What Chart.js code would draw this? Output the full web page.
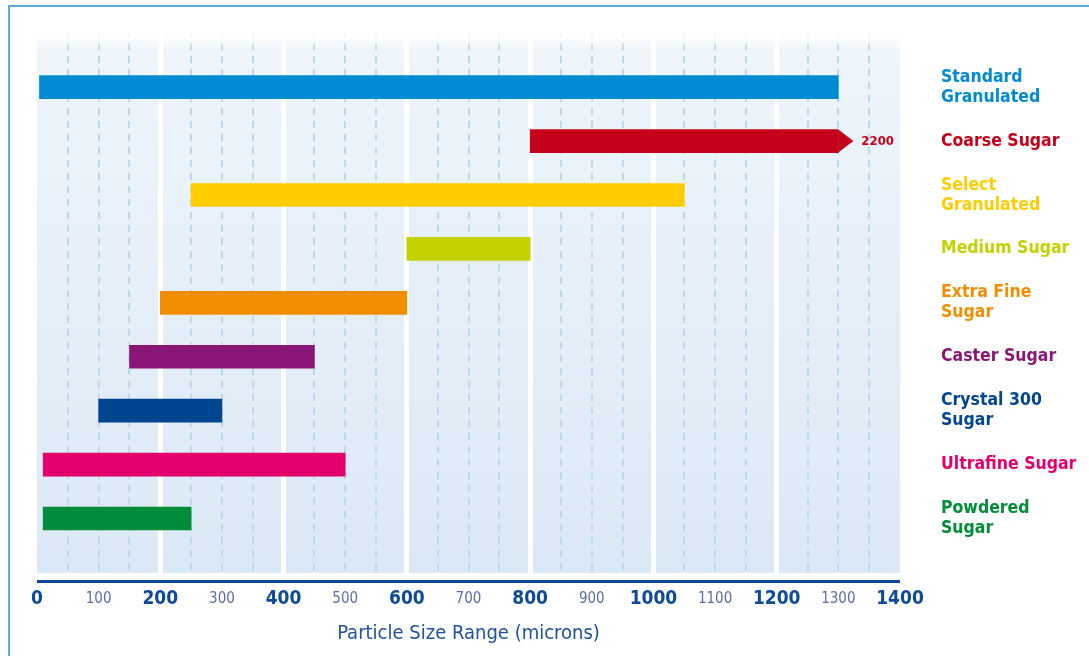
<!DOCTYPE html>
<html>
<head>
<meta charset="utf-8">
<script src="https://cdn.jsdelivr.net/npm/chart.js@4"></script>
<style>
  html, body { margin: 0; padding: 0; background: #fff; }
  #wrap { position: relative; width: 1089px; height: 656px; overflow: hidden; }
  #frame { position: absolute; left: 8px; top: 5px; width: 1200px; height: 800px; border: 2px solid #58abe0; }
  #sugarChart { position: absolute; left: 0; top: 0; }
</style>
</head>
<body>
<div id="wrap">
  <div id="frame"></div>
  <canvas id="sugarChart" width="1089" height="656"></canvas>
</div>
<script>
// sugar grades, top to bottom
const sugarNames = [
  ['Standard', 'Granulated'],
  'Coarse Sugar',
  ['Select', 'Granulated'],
  'Medium Sugar',
  ['Extra Fine', 'Sugar'],
  'Caster Sugar',
  ['Crystal 300', 'Sugar'],
  'Ultrafine Sugar',
  ['Powdered', 'Sugar']
];
// particle size range in microns
const sizeFrom = [0, 800, 250, 600, 200, 150, 100, 10, 10];
const sizeTo = [1300, 1300, 1050, 800, 600, 450, 300, 500, 250];
// bars that run off the scale get an arrow and their real upper size
const barEndNotes = [null, '2200', null, null, null, null, null, null, null];
const sugarColors = ['#008bd2', '#c4001a', '#ffcc00', '#c4d100', '#f18e00', '#8a1678', '#00458f', '#e2006d', '#008c39'];

const FONT = '"Liberation Sans Narrow", "Arial Narrow", "DejaVu Sans Condensed", sans-serif';
const DARK_BLUE = '#0d4b98';

// tick value from a scriptable context (scale-level contexts have no tick)
function tickVal(c) { return c && c.tick ? c.tick.value : NaN; }
function isMajor(v) { return v % 200 === 0; }

const backdropPlugin = {
  id: 'backdrop',
  beforeDraw(chart) {
    const {ctx, chartArea: a} = chart;
    const g = ctx.createLinearGradient(0, a.top, 0, a.bottom);
    g.addColorStop(0, '#ffffff');
    g.addColorStop(0.035, '#eef5fb');
    g.addColorStop(1, '#dbe8f5');
    ctx.save();
    ctx.fillStyle = g;
    ctx.fillRect(a.left, a.top, a.right - a.left, a.bottom - a.top);
    ctx.restore();
  },
  beforeDatasetsDraw(chart) {
    const {ctx, chartArea: a} = chart;
    ctx.save();
    // grid fades out into white at the top
    const g = ctx.createLinearGradient(0, a.top, 0, a.top + 20);
    g.addColorStop(0, 'rgba(255,255,255,1)');
    g.addColorStop(1, 'rgba(255,255,255,0)');
    ctx.fillStyle = g;
    ctx.fillRect(a.left, a.top, a.right - a.left, 20);
    // axis line sits a little below the plot
    ctx.fillStyle = DARK_BLUE;
    ctx.fillRect(a.left, a.bottom + 7, a.right - a.left, 3);
    ctx.restore();
  },
  afterDatasetsDraw(chart) {
    const ctx = chart.ctx;
    const meta = chart.getDatasetMeta(0);
    meta.data.forEach(function(bar, i) {
      if (!barEndNotes[i]) return;
      const p = bar.getProps(['x', 'y', 'height'], true);
      ctx.save();
      ctx.fillStyle = sugarColors[i];
      ctx.beginPath();
      ctx.moveTo(p.x, p.y - p.height / 2);
      ctx.lineTo(p.x + 15, p.y);
      ctx.lineTo(p.x, p.y + p.height / 2);
      ctx.closePath();
      ctx.fill();
      ctx.font = 'bold 13px ' + FONT;
      ctx.textAlign = 'left';
      ctx.textBaseline = 'middle';
      ctx.fillText(barEndNotes[i], p.x + 23, p.y + 1);
      ctx.restore();
    });
  }
};

const ctx = document.getElementById('sugarChart');
new Chart(ctx, {
  type: 'bar',
  plugins: [backdropPlugin],
  data: {
    datasets: [{
      data: sugarNames.map(function(n, i) { return {x: [sizeFrom[i], sizeTo[i]], y: i}; }),
      backgroundColor: sugarColors,
      borderWidth: 0,
      barThickness: 23
    }]
  },
  options: {
    indexAxis: 'y',
    responsive: false,
    animation: false,
    devicePixelRatio: 1,
    layout: {
      padding: {left: 37, top: 30, right: 0, bottom: 0}
    },
    scales: {
      x: {
        type: 'linear',
        position: 'bottom',
        min: 0,
        max: 1400,
        grid: {
          drawTicks: false,
          color: function(c) {
            const v = tickVal(c);
            if (v === 0 || v === 1400) return 'rgba(0,0,0,0)';
            return isMajor(v) ? '#ffffff' : '#b9d9ef';
          },
          lineWidth: function(c) { return isMajor(tickVal(c)) ? 5 : 2; }
        },
        border: {
          display: false,
          dash: function(c) { return isMajor(tickVal(c)) ? [] : [7, 6]; }
        },
        ticks: {
          stepSize: 50,
          autoSkip: false,
          maxRotation: 0,
          padding: 12,
          callback: function(v) { return v % 100 === 0 ? String(v) : ''; },
          color: function(c) { return isMajor(tickVal(c)) ? DARK_BLUE : '#5a6eab'; },
          font: function(c) {
            return isMajor(tickVal(c))
              ? {family: FONT, size: 19, weight: 'bold', lineHeight: '28px'}
              : {family: FONT, size: 15, weight: 'normal', lineHeight: '28px'};
          }
        },
        title: {
          display: true,
          text: 'Particle Size Range (microns)',
          color: '#1d52a0',
          font: {family: FONT, size: 20},
          padding: {top: 0, bottom: 10}
        },
        afterFit: function(scale) {
          scale.height = 83;
          scale.paddingLeft = 0;
          scale.paddingRight = 0;
        }
      },
      y: {
        type: 'linear',
        position: 'right',
        reverse: true,
        offset: false,
        min: -1.06,
        max: 9.01,
        grid: {display: false},
        border: {display: false},
        ticks: {
          stepSize: 1,
          autoSkip: false,
          padding: 33,
          callback: function(v) {
            return (Number.isInteger(v) && v >= 0 && v < sugarNames.length) ? sugarNames[v] : null;
          },
          color: function(c) { return sugarColors[tickVal(c)] || 'rgba(0,0,0,0)'; },
          font: {family: FONT, size: 17.5, weight: 'bold', lineHeight: '20px'}
        },
        afterFit: function(scale) {
          scale.width = 189;
          // keep the plot top where the layout padding puts it
          scale.paddingTop = 0;
          scale.paddingBottom = 0;
        }
      }
    },
    plugins: {
      legend: {display: false},
      tooltip: {enabled: false}
    }
  }
});
</script>
</body>
</html>
